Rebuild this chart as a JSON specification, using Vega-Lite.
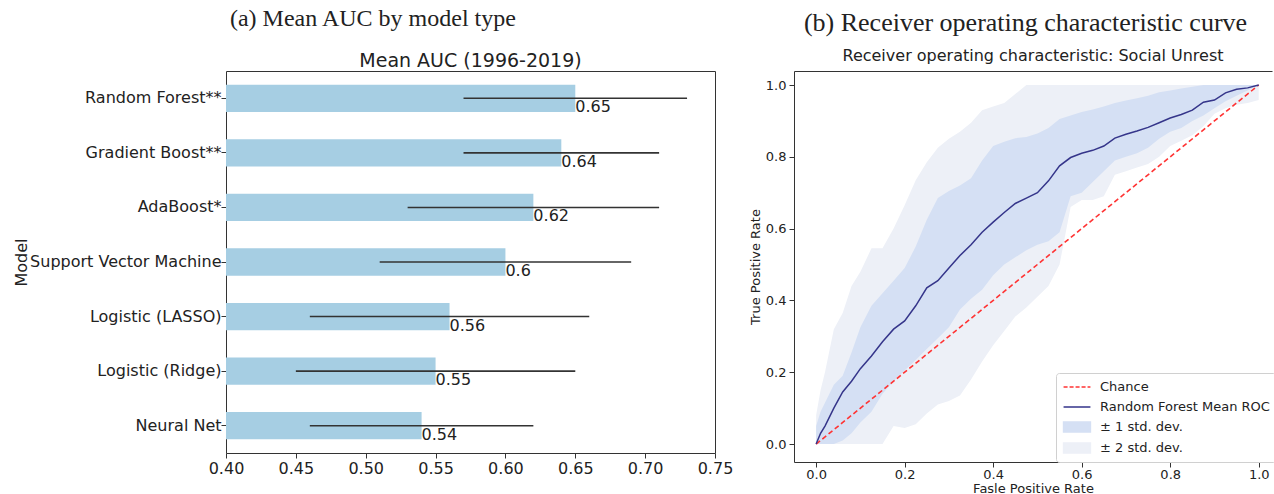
{
  "$schema": "https://vega.github.io/schema/vega-lite/v6.json",
  "padding": {"left": 12, "top": 6, "right": 0, "bottom": 0},
  "config": {
    "font": "DejaVu Sans",
    "view": {"stroke": "#333", "strokeWidth": 1},
    "axis": {"labelColor": "#222", "titleColor": "#222", "tickColor": "#333", "domainColor": "#333", "grid": false, "titleFontWeight": "normal", "labelFlush": false},
    "title": {"color": "#222", "fontWeight": "normal"}
  },
  "spacing": 15,
  "hconcat": [
    {
      "title": {"text": "(a) Mean AUC by model type", "font": "Liberation Serif", "fontSize": 24, "fontWeight": "normal", "anchor": "middle", "frame": "bounds", "offset": 21},
      "vconcat": [
        {
          "title": {"text": "Mean AUC (1996-2019)", "fontSize": 19, "fontWeight": "normal", "anchor": "middle", "frame": "group", "offset": 0},
          "width": 489,
          "height": 382,
          "data": {"values": [
            {"model": "Random Forest**", "auc": 0.65, "lo": 0.57, "hi": 0.73, "label": "0.65"},
            {"model": "Gradient Boost**", "auc": 0.64, "lo": 0.57, "hi": 0.71, "label": "0.64"},
            {"model": "AdaBoost*", "auc": 0.62, "lo": 0.53, "hi": 0.71, "label": "0.62"},
            {"model": "Support Vector Machine", "auc": 0.60, "lo": 0.51, "hi": 0.69, "label": "0.6"},
            {"model": "Logistic (LASSO)", "auc": 0.56, "lo": 0.46, "hi": 0.66, "label": "0.56"},
            {"model": "Logistic (Ridge)", "auc": 0.55, "lo": 0.45, "hi": 0.65, "label": "0.55"},
            {"model": "Neural Net", "auc": 0.54, "lo": 0.46, "hi": 0.62, "label": "0.54"}
          ]},
          "encoding": {
            "y": {
              "field": "model", "type": "nominal",
              "sort": ["Random Forest**", "Gradient Boost**", "AdaBoost*", "Support Vector Machine", "Logistic (LASSO)", "Logistic (Ridge)", "Neural Net"],
              "scale": {"paddingInner": 0.5, "paddingOuter": 0.25},
              "axis": {"title": "Model", "labelFontSize": 16, "titleFontSize": 16, "tickSize": 5, "labelPadding": 0, "domain": false, "minExtent": 192, "maxExtent": 192, "titlePadding": 5, "labelLimit": 300}
            }
          },
          "layer": [
            {
              "mark": {"type": "bar", "color": "#a6cee3"},
              "encoding": {
                "x": {"field": "auc", "type": "quantitative", "scale": {"domain": [0.4, 0.75], "nice": false, "zero": false},
                  "axis": {"title": null, "values": [0.4, 0.45, 0.5, 0.55, 0.6, 0.65, 0.7, 0.75], "format": ".2f", "labelFontSize": 16, "tickSize": 5, "labelPadding": 2, "domain": false, "labelFlush": false}},
                "x2": {"datum": 0.4}
              }
            },
            {
              "mark": {"type": "rule", "color": "#333", "strokeWidth": 1.6},
              "encoding": {
                "x": {"field": "lo", "type": "quantitative"},
                "x2": {"field": "hi"}
              }
            },
            {
              "mark": {"type": "text", "align": "left", "baseline": "top", "dy": 1, "fontSize": 16, "color": "#222"},
              "encoding": {
                "x": {"field": "auc", "type": "quantitative"},
                "text": {"field": "label"}
              }
            }
          ]
        }
      ]
    },
    {
      "title": {"text": "(b) Receiver operating characteristic curve", "font": "Liberation Serif", "fontSize": 26, "fontWeight": "normal", "anchor": "middle", "frame": "bounds", "offset": 12, "dx": 15},
      "vconcat": [
        {
          "title": {"text": "Receiver operating characteristic: Social Unrest", "fontSize": 16, "fontWeight": "normal", "anchor": "middle", "frame": "group", "offset": 7},
          "width": 478,
          "height": 391,
          "view": {"stroke": null},
          "data": {"values": [
            {"fpr": 0, "tpr": 0, "hi1": 0.05, "lo1": 0, "hi2": 0.08, "lo2": 0},
            {"fpr": 0.01, "tpr": 0.03, "hi1": 0.09, "lo1": 0, "hi2": 0.15, "lo2": 0},
            {"fpr": 0.02, "tpr": 0.05, "hi1": 0.115, "lo1": 0, "hi2": 0.2, "lo2": 0},
            {"fpr": 0.04, "tpr": 0.1, "hi1": 0.165, "lo1": 0, "hi2": 0.32, "lo2": 0},
            {"fpr": 0.06, "tpr": 0.145, "hi1": 0.19, "lo1": 0.01, "hi2": 0.365, "lo2": 0},
            {"fpr": 0.08, "tpr": 0.175, "hi1": 0.255, "lo1": 0.03, "hi2": 0.44, "lo2": 0},
            {"fpr": 0.1, "tpr": 0.21, "hi1": 0.325, "lo1": 0.06, "hi2": 0.48, "lo2": 0},
            {"fpr": 0.125, "tpr": 0.245, "hi1": 0.385, "lo1": 0.09, "hi2": 0.545, "lo2": 0},
            {"fpr": 0.15, "tpr": 0.285, "hi1": 0.42, "lo1": 0.14, "hi2": 0.545, "lo2": 0},
            {"fpr": 0.175, "tpr": 0.32, "hi1": 0.455, "lo1": 0.175, "hi2": 0.6, "lo2": 0.05},
            {"fpr": 0.2, "tpr": 0.343, "hi1": 0.49, "lo1": 0.205, "hi2": 0.665, "lo2": 0.045},
            {"fpr": 0.225, "tpr": 0.385, "hi1": 0.55, "lo1": 0.234, "hi2": 0.735, "lo2": 0.055},
            {"fpr": 0.25, "tpr": 0.435, "hi1": 0.625, "lo1": 0.265, "hi2": 0.785, "lo2": 0.085},
            {"fpr": 0.275, "tpr": 0.455, "hi1": 0.685, "lo1": 0.295, "hi2": 0.825, "lo2": 0.11},
            {"fpr": 0.3, "tpr": 0.49, "hi1": 0.705, "lo1": 0.325, "hi2": 0.85, "lo2": 0.12},
            {"fpr": 0.325, "tpr": 0.525, "hi1": 0.72, "lo1": 0.375, "hi2": 0.87, "lo2": 0.135},
            {"fpr": 0.35, "tpr": 0.555, "hi1": 0.74, "lo1": 0.405, "hi2": 0.895, "lo2": 0.18},
            {"fpr": 0.375, "tpr": 0.59, "hi1": 0.79, "lo1": 0.43, "hi2": 0.93, "lo2": 0.23},
            {"fpr": 0.4, "tpr": 0.618, "hi1": 0.83, "lo1": 0.47, "hi2": 0.94, "lo2": 0.275},
            {"fpr": 0.425, "tpr": 0.645, "hi1": 0.842, "lo1": 0.5, "hi2": 0.95, "lo2": 0.315},
            {"fpr": 0.45, "tpr": 0.67, "hi1": 0.852, "lo1": 0.52, "hi2": 0.975, "lo2": 0.355},
            {"fpr": 0.475, "tpr": 0.685, "hi1": 0.855, "lo1": 0.54, "hi2": 1, "lo2": 0.38},
            {"fpr": 0.5, "tpr": 0.7, "hi1": 0.865, "lo1": 0.555, "hi2": 1, "lo2": 0.41},
            {"fpr": 0.525, "tpr": 0.733, "hi1": 0.88, "lo1": 0.565, "hi2": 1, "lo2": 0.44},
            {"fpr": 0.55, "tpr": 0.775, "hi1": 0.905, "lo1": 0.59, "hi2": 1, "lo2": 0.5},
            {"fpr": 0.575, "tpr": 0.798, "hi1": 0.915, "lo1": 0.69, "hi2": 1, "lo2": 0.66},
            {"fpr": 0.6, "tpr": 0.81, "hi1": 0.925, "lo1": 0.7, "hi2": 1, "lo2": 0.68},
            {"fpr": 0.625, "tpr": 0.818, "hi1": 0.932, "lo1": 0.73, "hi2": 1, "lo2": 0.68},
            {"fpr": 0.65, "tpr": 0.83, "hi1": 0.94, "lo1": 0.76, "hi2": 1, "lo2": 0.69},
            {"fpr": 0.675, "tpr": 0.852, "hi1": 0.95, "lo1": 0.79, "hi2": 1, "lo2": 0.75},
            {"fpr": 0.7, "tpr": 0.863, "hi1": 0.957, "lo1": 0.8, "hi2": 1, "lo2": 0.76},
            {"fpr": 0.725, "tpr": 0.872, "hi1": 0.963, "lo1": 0.81, "hi2": 1, "lo2": 0.77},
            {"fpr": 0.75, "tpr": 0.882, "hi1": 0.97, "lo1": 0.825, "hi2": 1, "lo2": 0.78},
            {"fpr": 0.775, "tpr": 0.895, "hi1": 0.98, "lo1": 0.85, "hi2": 1, "lo2": 0.8},
            {"fpr": 0.8, "tpr": 0.908, "hi1": 0.985, "lo1": 0.87, "hi2": 1, "lo2": 0.83},
            {"fpr": 0.825, "tpr": 0.918, "hi1": 0.99, "lo1": 0.88, "hi2": 1, "lo2": 0.845},
            {"fpr": 0.85, "tpr": 0.93, "hi1": 0.995, "lo1": 0.9, "hi2": 1, "lo2": 0.86},
            {"fpr": 0.875, "tpr": 0.952, "hi1": 1, "lo1": 0.915, "hi2": 1, "lo2": 0.885},
            {"fpr": 0.9, "tpr": 0.958, "hi1": 1, "lo1": 0.935, "hi2": 1, "lo2": 0.92},
            {"fpr": 0.925, "tpr": 0.978, "hi1": 1, "lo1": 0.955, "hi2": 1, "lo2": 0.935},
            {"fpr": 0.95, "tpr": 0.988, "hi1": 1, "lo1": 0.97, "hi2": 1, "lo2": 0.945},
            {"fpr": 0.975, "tpr": 0.992, "hi1": 1, "lo1": 0.985, "hi2": 1, "lo2": 0.95},
            {"fpr": 1, "tpr": 1, "hi1": 1, "lo1": 1, "hi2": 1, "lo2": 0.958}
          ]},
          "resolve": {"axis": {"x": "independent", "y": "independent"}},
          "layer": [
            {
              "mark": {"type": "area", "opacity": 1},
              "encoding": {
                "x": {"field": "fpr", "type": "quantitative", "scale": {"domain": [-0.05, 1.03], "nice": false, "zero": false},
                  "axis": {"orient": "bottom", "title": "Fasle Positive Rate", "values": [0, 0.2, 0.4, 0.6, 0.8, 1], "format": ".1f", "labelFontSize": 13, "titleFontSize": 13, "tickSize": 5, "labelPadding": 1, "titlePadding": 1, "domain": true, "labelFlush": false}},
                "y": {"field": "lo2", "type": "quantitative", "scale": {"domain": [-0.05, 1.039], "nice": false, "zero": false},
                  "axis": {"orient": "left", "title": "True Positive Rate", "values": [0, 0.2, 0.4, 0.6, 0.8, 1], "format": ".1f", "labelFontSize": 13, "titleFontSize": 13, "tickSize": 5, "labelPadding": 3, "titlePadding": 2, "minExtent": 30, "maxExtent": 30, "domain": true, "labelFlush": false}},
                "y2": {"field": "hi2"},
                "color": {
                  "datum": "± 2 std. dev.", "type": "nominal",
                  "scale": {"domain": ["Chance", "Random Forest Mean ROC", "± 1 std. dev.", "± 2 std. dev."], "range": ["#ff3333", "#35358a", "#d5e0f4", "#edf0f7"]},
                  "legend": {
                    "title": null, "orient": "none", "legendX": 830, "legendY": 302,
                    "labelFontSize": 13, "labelColor": "#222", "labelOffset": 15, "labelLimit": 300,
                    "symbolSize": 200, "symbolOffset": 7, "symbolOpacity": 1, "symbolStrokeWidth": 1.5,
                    "rowPadding": 5, "padding": 6,
                    "fillColor": "white", "strokeColor": "#d0d0d0", "cornerRadius": 3,
                    "encode": {
                      "symbols": {"update": {
                        "shape": {"signal": "(datum.value === 'Chance' || datum.value === 'Random Forest Mean ROC') ? 'M-1.9,0H1.9' : 'M-1.9,-0.7H1.9V0.7H-1.9Z'"},
                        "stroke": {"signal": "datum.value === 'Chance' ? '#ff3333' : (datum.value === 'Random Forest Mean ROC' ? '#35358a' : 'transparent')"},
                        "fill": {"signal": "datum.value === '± 1 std. dev.' ? '#d5e0f4' : (datum.value === '± 2 std. dev.' ? '#edf0f7' : 'transparent')"},
                        "strokeDash": {"signal": "datum.value === 'Chance' ? [4, 2] : [1, 0]"},
                        "strokeWidth": {"value": 1.5},
                        "opacity": {"value": 1}
                      }}
                    }
                  }
                }
              }
            },
            {
              "mark": {"type": "area", "opacity": 1},
              "encoding": {
                "x": {"field": "fpr", "type": "quantitative", "axis": null},
                "y": {"field": "lo1", "type": "quantitative", "axis": null},
                "y2": {"field": "hi1"},
                "color": {"datum": "± 1 std. dev.", "type": "nominal"}
              }
            },
            {
              "data": {"values": [{"fpr": 0, "tpr": 0}, {"fpr": 1, "tpr": 1}]},
              "mark": {"type": "line", "strokeDash": [5, 3], "strokeWidth": 1.6},
              "encoding": {
                "x": {"field": "fpr", "type": "quantitative", "axis": null},
                "y": {"field": "tpr", "type": "quantitative", "axis": null},
                "color": {"datum": "Chance", "type": "nominal"}
              }
            },
            {
              "mark": {"type": "line", "strokeWidth": 1.5},
              "encoding": {
                "x": {"field": "fpr", "type": "quantitative",
                  "axis": {"orient": "top", "title": null, "labels": false, "ticks": false, "domain": true}},
                "y": {"field": "tpr", "type": "quantitative", "axis": null},
                "color": {"datum": "Random Forest Mean ROC", "type": "nominal"}
              }
            }
          ]
        }
      ]
    }
  ]
}
